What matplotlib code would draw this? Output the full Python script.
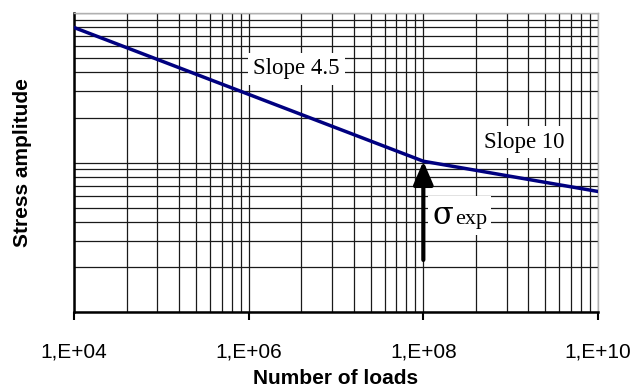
import numpy as np
import matplotlib
matplotlib.use("Agg")
import matplotlib.pyplot as plt
from matplotlib.ticker import FixedLocator, NullFormatter
from matplotlib.offsetbox import TextArea, HPacker, AnnotationBbox

# values (stress in arbitrary units, axis has no labels)
loads = [1e4, 1e8, 1e10]
stress = [800, 102, 64]
x_major = [1e4, 1e6, 1e8, 1e10]
x_labels = ["1,E+04", "1,E+06", "1,E+08", "1,E+10"]
y_limits = [10, 1000]
arrow_from = 22.3
arrow_at = 1e8

fig = plt.figure(figsize=(6.31, 3.86), dpi=100)
ax = fig.add_axes([0.1173, 0.1917, 0.8304, 0.7746])

ax.set_xscale("log")
ax.set_yscale("log")
ax.set_xlim(x_major[0], x_major[-1])
ax.set_ylim(*y_limits)

# x minor lines sit at n^2 times the even decades, as in the original
xminor = [n**2 * d for d in x_major[:-1] for n in range(2, 10)]
ax.xaxis.set_major_locator(FixedLocator(x_major))
ax.xaxis.set_minor_locator(FixedLocator(xminor))
ax.set_xticklabels(x_labels, fontsize=15, family="Liberation Sans")
ax.xaxis.set_minor_formatter(NullFormatter())

ydec = [10, 100, 1000]
yminor = [n * d for d in ydec[:-1] for n in range(2, 10)]
ax.yaxis.set_major_locator(FixedLocator(ydec))
ax.yaxis.set_minor_locator(FixedLocator(yminor))
ax.yaxis.set_major_formatter(NullFormatter())
ax.yaxis.set_minor_formatter(NullFormatter())

ax.grid(True, which="both", color="#1a1a1a", lw=0.9)
ax.tick_params(axis="x", which="major", direction="out", length=6, width=1.5, pad=16)
ax.tick_params(axis="x", which="minor", length=0)
ax.tick_params(axis="y", which="both", length=0)

for s in ["left", "bottom"]:
    ax.spines[s].set_linewidth(1.8)
    ax.spines[s].set_color("black")
for s in ["top", "right"]:
    ax.spines[s].set_linewidth(1.0)
    ax.spines[s].set_color("#b0b0b0")

ax.plot(loads, stress, color="#000080", lw=2.5, zorder=3)

ax.annotate("", xy=(arrow_at, stress[1]), xytext=(arrow_at, arrow_from),
            arrowprops=dict(arrowstyle="-|>,head_length=0.7,head_width=0.3",
                            color="black", lw=3, shrinkA=0, shrinkB=0,
                            mutation_scale=20), zorder=4)

box = dict(facecolor="white", edgecolor="none", pad=4)
ax.text(3.54e6, 425, "Slope 4.5", fontsize=16.5, family="Liberation Serif",
        ha="center", va="center", bbox=box, zorder=3)
ax.text(1.43e9, 137, "Slope 10", fontsize=16.5, family="Liberation Serif",
        ha="center", va="center", bbox=box, zorder=3)

sig = TextArea("σ", textprops=dict(fontsize=22, family="DejaVu Serif"))
sub = TextArea("exp", textprops=dict(fontsize=16, family="Liberation Serif"))
pack = HPacker(children=[sig, sub], align="baseline", pad=0, sep=1)
ab = AnnotationBbox(pack, (2.6e8, 44), xycoords="data", frameon=True,
                    bboxprops=dict(facecolor="white", edgecolor="none"),
                    pad=0.3, zorder=3)
ax.add_artist(ab)

ax.set_xlabel("Number of loads", fontsize=15, fontweight="bold",
              family="Liberation Sans", labelpad=5)
ax.set_ylabel("Stress amplitude", fontsize=15, fontweight="bold",
              family="Liberation Sans", labelpad=27)

fig.savefig("out.png", dpi=100)
